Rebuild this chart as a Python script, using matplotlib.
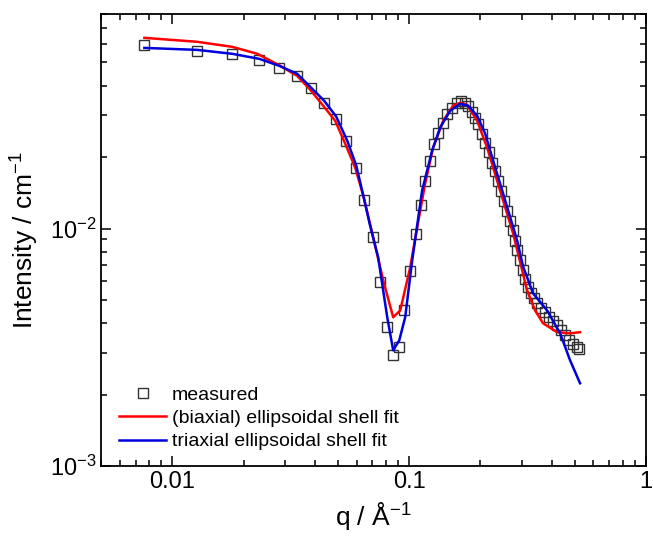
import matplotlib
matplotlib.use("Agg")
from matplotlib import pyplot as plt
from matplotlib.ticker import NullFormatter

# measured data (q in 1/A, intensity in 1/cm)
q_meas = [0.00762, 0.01275, 0.01791, 0.02328, 0.02829, 0.03367, 0.0386, 0.04377,
          0.0492, 0.0542, 0.0598, 0.0646, 0.0705, 0.0755, 0.0808, 0.0856, 0.0908,
          0.0952, 0.1010, 0.1071, 0.1124, 0.1168, 0.1227, 0.1275, 0.1326, 0.1392,
          0.1446, 0.1518, 0.1594, 0.1656, 0.1722, 0.1774, 0.1844, 0.1899, 0.1954,
          0.2032, 0.2093, 0.2176, 0.2240, 0.2307, 0.2375, 0.2445, 0.2517, 0.2592,
          0.2668, 0.2747, 0.2801, 0.2856, 0.2940, 0.3027, 0.3087, 0.3178, 0.3272,
          0.3368, 0.3467, 0.3605, 0.3749, 0.3898, 0.4053, 0.4213, 0.4380, 0.4554,
          0.4735, 0.4922, 0.5117, 0.5216]
I_meas = [0.0593, 0.0560, 0.0544, 0.0513, 0.0475, 0.0439, 0.0391, 0.0338,
          0.0290, 0.0234, 0.0180, 0.01324, 0.00917, 0.00593, 0.00384, 0.00293, 0.00316,
          0.00452, 0.00660, 0.00944, 0.01261, 0.01591, 0.01931, 0.02276, 0.0253, 0.0279,
          0.0304, 0.0322, 0.0338, 0.0345, 0.0338, 0.0329, 0.0310, 0.0293, 0.0276,
          0.0251, 0.0228, 0.0209, 0.0189, 0.01753, 0.01591, 0.01444, 0.01311, 0.01190,
          0.01080, 0.00981, 0.00890, 0.00808, 0.00734, 0.00666, 0.00610, 0.00565, 0.00533,
          0.00508, 0.00484, 0.00461, 0.00444, 0.00423, 0.00407, 0.00391, 0.00373, 0.00355,
          0.00338, 0.00326, 0.00316, 0.00310]

# (biaxial) ellipsoidal shell fit
q_biax = [0.00762, 0.01275, 0.01791, 0.02284, 0.02856, 0.03367, 0.0382, 0.04335,
          0.0487, 0.0537, 0.0592, 0.0640, 0.0705, 0.0777, 0.0856, 0.0917, 0.1010,
          0.1081, 0.1168, 0.1262, 0.1392, 0.1533, 0.1641, 0.1757, 0.1936, 0.2134,
          0.2421, 0.2747, 0.3147, 0.3401, 0.3676, 0.4213, 0.4777, 0.5266]
I_biax = [0.0635, 0.0611, 0.0582, 0.0544, 0.0484, 0.0439, 0.0384, 0.0329,
          0.02843, 0.02276, 0.0180, 0.01376, 0.00917, 0.00605, 0.00423, 0.00452, 0.00686,
          0.01010, 0.01546, 0.02190, 0.02843, 0.0329, 0.0338, 0.0332, 0.02843, 0.02190,
          0.01444, 0.00953, 0.00549, 0.00452, 0.00399, 0.00366, 0.00362, 0.00366]

# triaxial ellipsoidal shell fit
q_triax = [0.00762, 0.01275, 0.01791, 0.02328, 0.02829, 0.03367, 0.0386, 0.04377,
           0.0492, 0.0548, 0.0598, 0.0646, 0.0684, 0.0740, 0.0808, 0.0856, 0.0908,
           0.0962, 0.1030, 0.1134, 0.1250, 0.1351, 0.1489, 0.1641, 0.1774, 0.1936,
           0.2093, 0.2262, 0.2493, 0.2856, 0.3027, 0.3336, 0.3822, 0.4339, 0.4777, 0.5266]
I_triax = [0.0576, 0.0565, 0.0544, 0.0518, 0.0484, 0.0448, 0.0391, 0.0345,
           0.0296, 0.0234, 0.0184, 0.01324, 0.01029, 0.00755, 0.00423, 0.00307, 0.00338,
           0.00423, 0.00734, 0.01444, 0.02127, 0.02657, 0.0313, 0.0335, 0.0329, 0.0298,
           0.0251, 0.01931, 0.01403, 0.00890, 0.00692, 0.00533, 0.00452, 0.00362, 0.00279, 0.00223]

plt.rcParams['font.family'] = ['Liberation Sans', 'DejaVu Sans']
plt.rcParams['mathtext.default'] = 'regular'
plt.rcParams['axes.unicode_minus'] = False

fig = plt.figure(figsize=(6.53, 5.37), dpi=100)
ax = fig.add_axes([0.1547, 0.1322, 0.8346, 0.8417])

ax.plot(q_meas, I_meas, linestyle='none', marker='s', markersize=7,
        markerfacecolor='none', markeredgecolor='#333333', markeredgewidth=1.0,
        label='measured')
ax.plot(q_biax, I_biax, color='#ff0000', linewidth=1.8,
        label='(biaxial) ellipsoidal shell fit')
ax.plot(q_triax, I_triax, color='#0000dd', linewidth=1.8,
        label='triaxial ellipsoidal shell fit')

ax.set_xscale('log')
ax.set_yscale('log')
ax.set_xlim(0.005, 1)
ax.set_ylim(1e-3, 0.08)

ax.set_xticks([0.01, 0.1, 1])
ax.set_xticklabels(['0.01', '0.1', '1'])
ax.xaxis.set_minor_formatter(NullFormatter())
ax.yaxis.set_minor_formatter(NullFormatter())

ax.tick_params(which='both', direction='in', top=True, right=True,
               labelsize=17, width=1.1)
ax.tick_params(which='major', length=7)
ax.tick_params(which='minor', length=4)
for sp in ax.spines.values():
    sp.set_linewidth(1.3)

ax.set_xlabel('q / Å$^{-1}$', fontsize=19, labelpad=5)
ax.set_ylabel('Intensity / cm$^{-1}$', fontsize=19, labelpad=6)

ax.legend(loc='lower left', bbox_to_anchor=(0.005, 0.0), frameon=False,
          fontsize=14, handlelength=2.4, handletextpad=0.3, labelspacing=0.3,
          borderaxespad=0.4)

fig.savefig('out.png', dpi=100)
